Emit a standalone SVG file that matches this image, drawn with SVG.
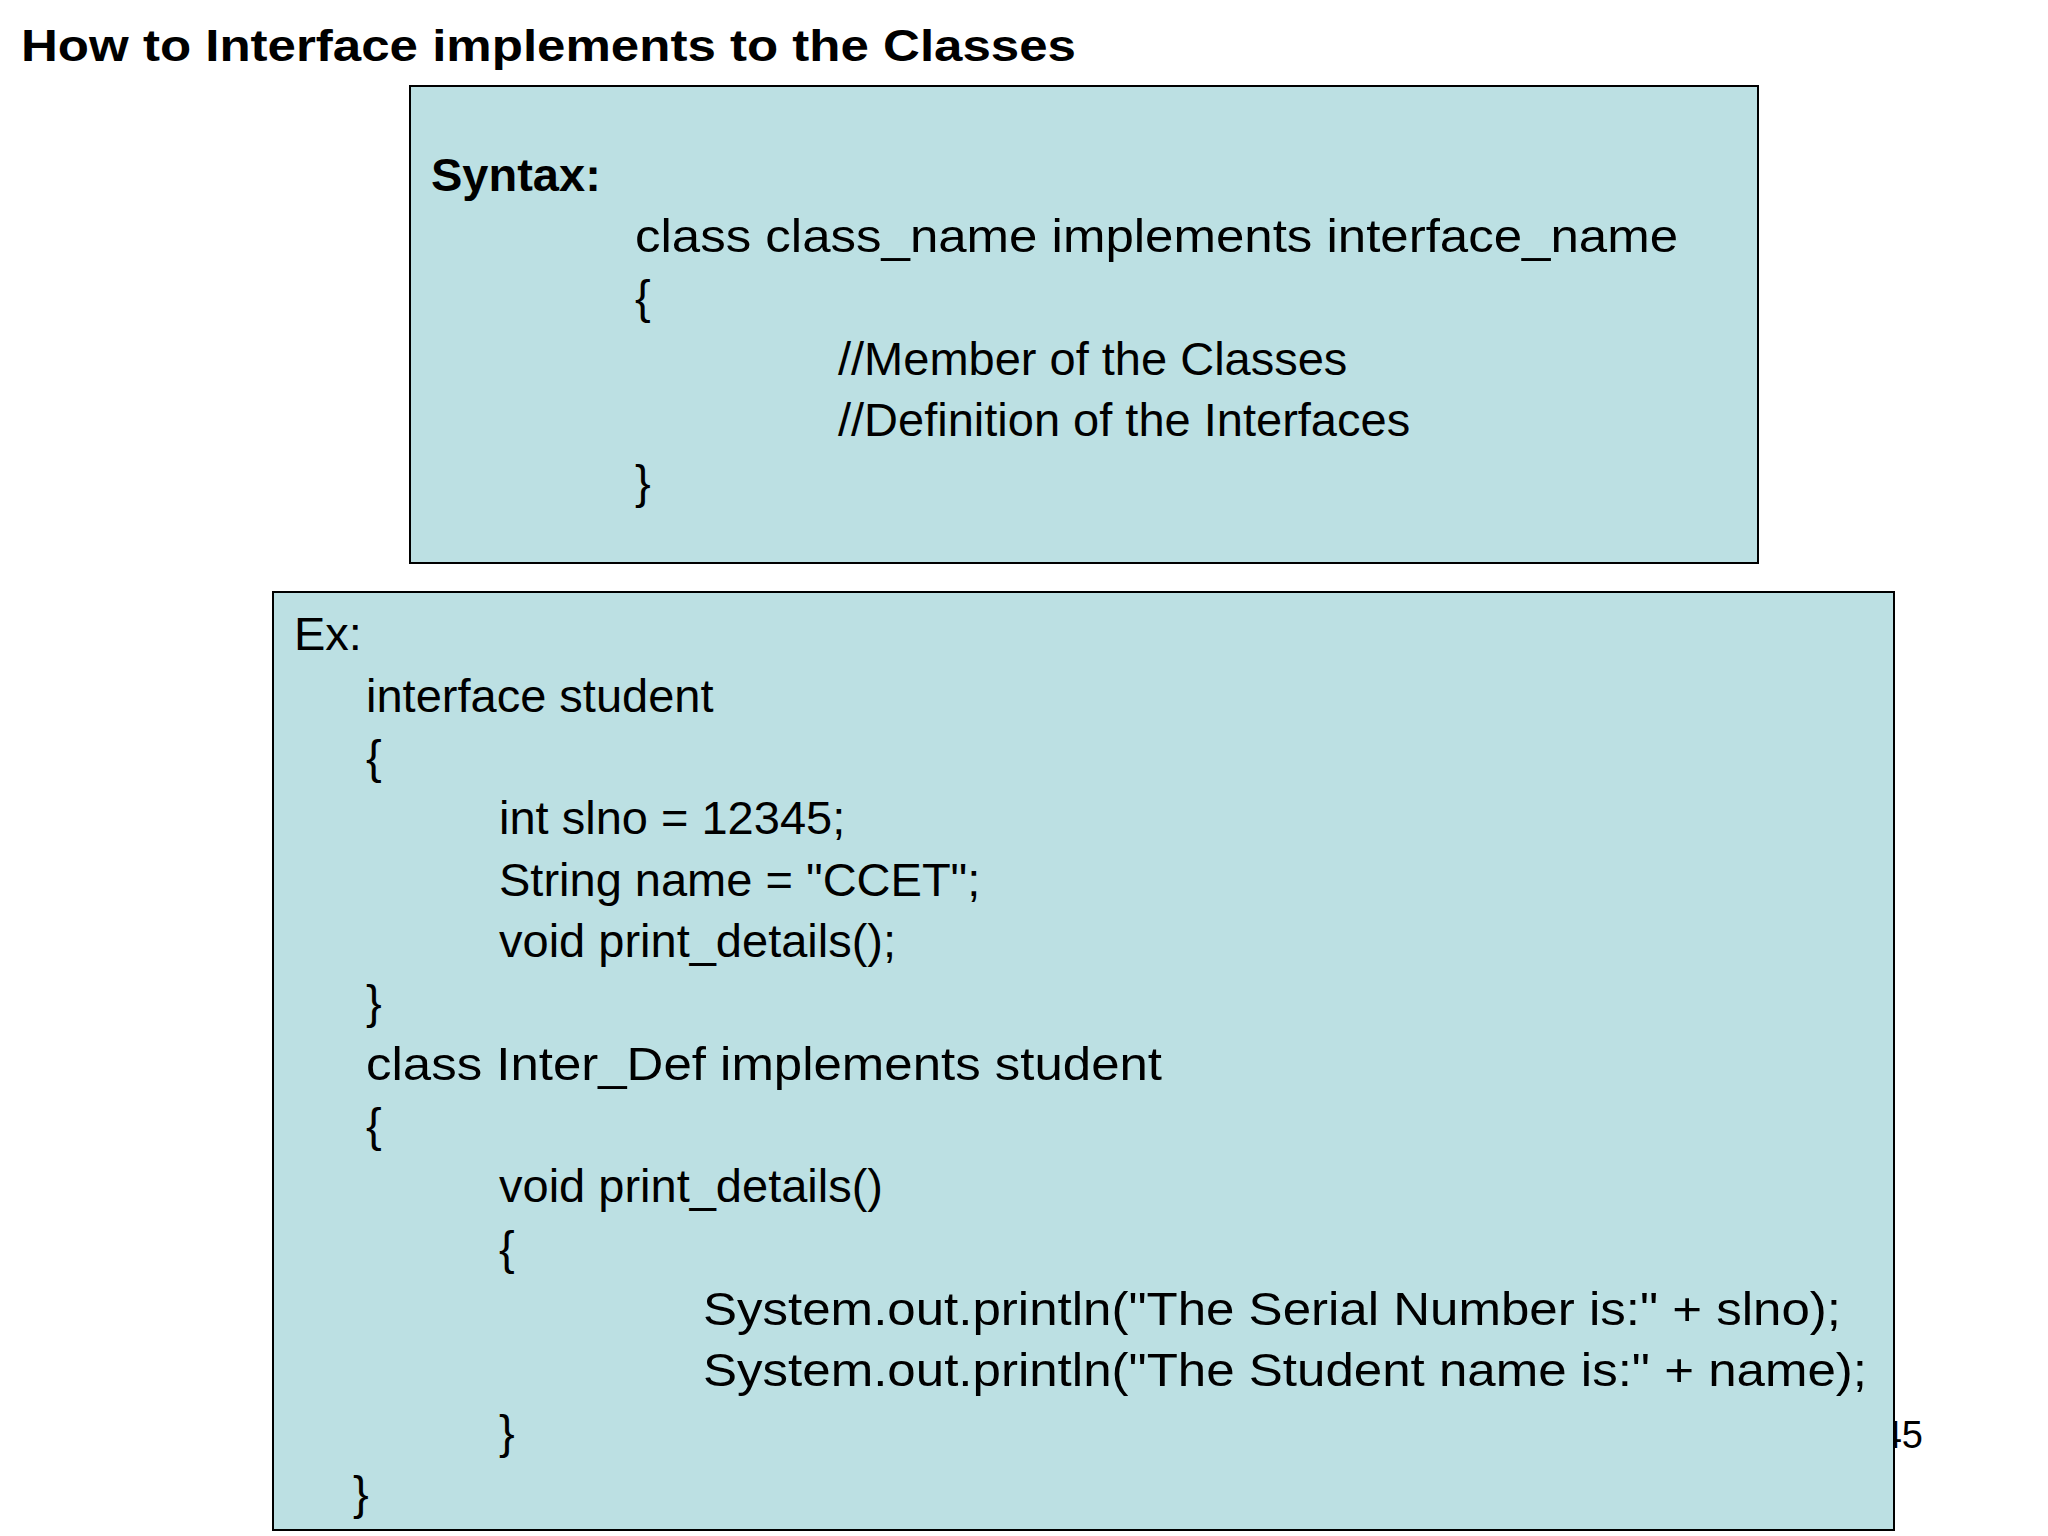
<svg xmlns="http://www.w3.org/2000/svg" width="2048" height="1536" viewBox="0 0 2048 1536">
<style>
text{font-family:"Liberation Sans",Arial,sans-serif;fill:#000}
.t{font-size:47px}
.b{font-weight:bold}
rect.box{fill:#bce0e3;stroke:#000;stroke-width:2}
</style>
<rect width="2048" height="1536" fill="#fff"/>
<text class="b" x="21" y="61" font-size="45" textLength="1055" lengthAdjust="spacingAndGlyphs">How to Interface implements to the Classes</text>
<text x="1923" y="1448" font-size="38" text-anchor="end">45</text>
<g id="syntax">
<rect class="box" x="410" y="86" width="1348" height="477"/>
<text class="t b" x="431" y="191">Syntax:</text>
<text class="t" x="635" y="252" textLength="1043" lengthAdjust="spacingAndGlyphs">class class_name implements interface_name</text>
<text class="t" x="635" y="313">{</text>
<text class="t" x="838" y="375">//Member of the Classes</text>
<text class="t" x="838" y="436">//Definition of the Interfaces</text>
<text class="t" x="635" y="498">}</text>
</g>
<g id="example">
<rect class="box" x="273" y="592" width="1621" height="938"/>
<text class="t" x="294" y="650">Ex:</text>
<text class="t" x="366" y="712">interface student</text>
<text class="t" x="366" y="773">{</text>
<text class="t" x="499" y="834">int slno = 12345;</text>
<text class="t" x="499" y="896">String name = "CCET";</text>
<text class="t" x="499" y="957">void print_details();</text>
<text class="t" x="366" y="1018">}</text>
<text class="t" x="366" y="1080" textLength="796" lengthAdjust="spacingAndGlyphs">class Inter_Def implements student</text>
<text class="t" x="366" y="1141">{</text>
<text class="t" x="499" y="1202">void print_details()</text>
<text class="t" x="499" y="1264">{</text>
<text class="t" x="703" y="1325" textLength="1138" lengthAdjust="spacingAndGlyphs">System.out.println("The Serial Number is:" + slno);</text>
<text class="t" x="703" y="1386" textLength="1164" lengthAdjust="spacingAndGlyphs">System.out.println("The Student name is:" + name);</text>
<text class="t" x="499" y="1448">}</text>
<text class="t" x="353" y="1509">}</text>
</g>
</svg>
